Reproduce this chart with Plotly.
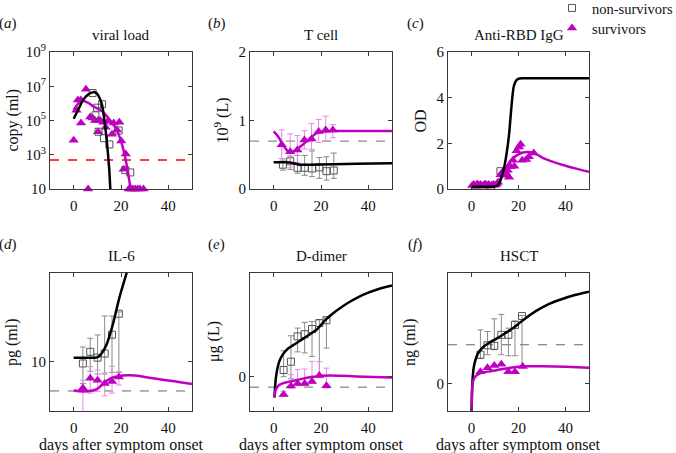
import plotly.graph_objects as go

W, H = 676, 453
FONT = "Liberation Serif, Times New Roman, serif"
MAG = "#c000c0"
MAG_ERR = "#e68ae6"
GRAY = "#555555"
GRAY_ERR = "#8a8a8a"

# ---------------- (a) viral load ----------------
a_surv_x = [0, 1.2, 1.8, 3.0, 3.1, 5.2, 6.1, 7.0, 8.0, 9.0, 10.3, 11.2, 10.3, 12.5, 13.5, 14.5,
            16.2, 16.9, 18.3, 19.3, 20.1, 22.0, 21.1, 23.3, 24.2, 25.0, 26.0, 27.0, 28.0, 29.5]
a_surv_y = [7.1e3, 4.0e5, 1.6e6, 1.6e6, 7.1e4, 6.6e6, 10, 1.6e5, 1.4e5, 1.0e5, 1.0e5, 1.0e5, 2.2e4, 7.9e4, 4.0e4, 8.9e4,
            1.6e4, 7.1e4, 2.8e4, 7.9e4, 6.3e3, 1.1e3, 140, 10, 10, 10, 10, 10, 10, 10]
a_non_x = [8.0, 9.9, 12.0, 9.2, 10.5, 12.8, 15.1, 19.0, 21.8, 23.9]
a_non_y = [4.0e6, 5.6e5, 8.9e5, 2.0e5, 2.2e4, 9.3e3, 4.0e3, 2.6e4, 126, 93]
a_fit_non_x = [0, 2, 4, 6, 8, 9, 10, 11, 12, 13, 14, 15, 15.5, 15.8]
a_fit_non_y = [1.26e5, 4.5e5, 1.6e6, 3.2e6, 4.4e6, 4.5e6, 3.5e6, 2.0e6, 7.9e5, 1.0e5, 6.3e3, 160, 10, 3]
a_fit_surv_x = [0, 2, 4, 6, 8, 10, 12, 14, 16, 18, 20, 22, 23.5, 24.2]
a_fit_surv_y = [4.0e5, 1.0e6, 1.4e6, 1.1e6, 7.1e5, 5.0e5, 3.5e5, 1.8e5, 7.9e4, 3.2e4, 6.3e3, 500, 32, 8]
a_limit = 500

# ---------------- (b) T cell ----------------
b_surv_x = [3.4, 7.0, 10.0, 13.0, 16.0, 19.0, 22.0, 25.0]
b_surv_y = [0.645, 0.545, 0.57, 0.715, 0.73, 0.84, 0.86, 0.86]
b_surv_hi = [0.865, 0.805, 0.78, 0.85, 0.955, 1.015, 1.065, 0.94]
b_surv_lo = [0.445, 0.31, 0.39, 0.585, 0.58, 0.68, 0.70, 0.75]
b_non_x = [3.9, 7.0, 10.1, 13.1, 16.2, 19.3, 22.3, 25.4]
b_non_y = [0.355, 0.405, 0.31, 0.31, 0.30, 0.315, 0.26, 0.27]
b_non_hi = [0.44, 0.48, 0.49, 0.49, 0.555, 0.46, 0.47, 0.525]
b_non_lo = [0.275, 0.285, 0.23, 0.20, 0.18, 0.155, 0.13, 0.155]
b_fit_non_x = [0, 5, 8, 11, 15, 25, 35, 50]
b_fit_non_y = [0.39, 0.39, 0.38, 0.355, 0.355, 0.36, 0.37, 0.375]
b_fit_surv_x = [0, 2, 4, 6, 7, 9, 12, 15, 18, 21, 24, 30, 40, 50]
b_fit_surv_y = [0.84, 0.76, 0.64, 0.55, 0.53, 0.56, 0.64, 0.73, 0.81, 0.84, 0.845, 0.845, 0.845, 0.845]
b_ref = 0.7

# ---------------- (c) Anti-RBD IgG ----------------
c_surv_x = [0.3, 1.0, 1.7, 2.4, 3.1, 3.8, 4.5, 5.2, 5.9, 6.6, 7.3, 8.0, 8.7, 9.4, 10.1, 10.8, 11.3,
            12.4, 13.2, 14.0, 14.6, 15.4, 16.0, 16.6, 17.7, 18.2, 19.2, 20.2, 20.9, 21.6, 23.3, 24.4, 26.5]
c_surv_y = [0.15, 0.2, 0.12, 0.22, 0.16, 0.2, 0.14, 0.18, 0.22, 0.15, 0.2, 0.13, 0.18, 0.2, 0.16, 0.22, 0.3,
            0.62, 0.75, 0.6, 0.72, 0.82, 0.51, 0.97, 1.26, 1.0, 1.67, 1.84, 1.96, 1.26, 1.29, 1.41, 1.58]
c_non_x = [8.3, 12.3]
c_non_y = [0.05, 0.78]
c_fit_non_x = [0, 5, 9, 11, 12, 13, 14, 15, 16, 17, 18, 19, 20, 22, 30, 40, 50]
c_fit_non_y = [0.1, 0.1, 0.1, 0.15, 0.3, 0.6, 1.0, 1.6, 2.4, 3.6, 4.5, 4.75, 4.83, 4.85, 4.85, 4.85, 4.85]
c_fit_surv_x = [0, 5, 9, 11, 12, 13, 14, 16, 18, 20, 22, 24, 26, 28, 31, 35, 40, 45, 50]
c_fit_surv_y = [0.08, 0.08, 0.1, 0.22, 0.38, 0.58, 0.8, 1.15, 1.38, 1.52, 1.6, 1.62, 1.59, 1.5, 1.33, 1.18, 1.02, 0.88, 0.75]

# ---------------- (d) IL-6 ----------------
d_non_x = [3.9, 7.0, 10.1, 13.1, 16.2, 19.1]
d_non_y = [9.6, 12.6, 11.0, 12.1, 18.8, 30.7]
d_non_hi = [14.1, 17.3, 18.7, 29.1, 29.1, 32.0]
d_non_lo = [6.0, 8.0, 7.5, 7.5, 7.8, 7.8]
d_surv_x = [3.9, 7.0, 10.1, 13.1, 16.2, 19.1]
d_surv_y = [5.4, 6.8, 6.5, 6.0, 6.3, 7.0]
d_surv_hi = [6.5, 8.9, 8.2, 7.7, 9.0, 7.9]
d_surv_lo = [2.5, 4.8, 5.0, 4.5, 4.8, 5.8]
d_fit_non_x = [0, 5, 9, 10, 11, 12, 13, 14, 15, 16, 17, 18, 19, 20, 21, 22, 22.5]
d_fit_non_y = [11.0, 11.0, 11.0, 11.1, 11.5, 12.3, 13.5, 15.1, 17.8, 21.4, 26.3, 33.1, 41.7, 51.3, 61.7, 74.1, 81.3]
d_fit_surv_x = [0, 4, 8, 10, 12, 14, 16, 18, 20, 22, 24, 27, 30, 35, 40, 45, 50]
d_fit_surv_y = [5.1, 5.0, 5.1, 5.3, 5.8, 6.4, 6.85, 7.05, 7.2, 7.3, 7.3, 7.2, 7.0, 6.7, 6.45, 6.2, 5.95]
d_ref = 5.05

# ---------------- (e) D-dimer ----------------
e_non_x = [4.2, 7.3, 10.1, 13.1, 16.2, 19.3, 22.3]
e_non_y = [0.065, 0.145, 0.389, 0.41, 0.46, 0.517, 0.545]
e_non_hi = [0.25, 0.395, 0.469, 0.524, 0.533, 0.55, 0.565]
e_non_lo = [0.0, -0.02, 0.24, 0.23, 0.196, 0.003, 0.276]
e_surv_x = [4.2, 7.3, 10.1, 13.1, 16.2, 19.3, 22.3]
e_surv_y = [-0.17, -0.09, -0.065, -0.065, -0.045, 0.012, -0.087]
e_surv_hi = [-0.14, 0.02, 0.07, 0.075, 0.148, 0.145, 0.083]
e_surv_lo = [-0.19, -0.11, -0.085, -0.085, -0.065, -0.01, -0.107]
e_fit_non_x = [0.3, 0.6, 1, 2, 3, 4, 6, 8, 10, 12, 14, 16, 18, 20, 22, 25, 28, 32, 36, 40, 45, 50]
e_fit_non_y = [-0.2, -0.1, 0.0, 0.12, 0.18, 0.22, 0.27, 0.3, 0.33, 0.36, 0.39, 0.42, 0.45, 0.5, 0.55, 0.61,
               0.66, 0.72, 0.77, 0.81, 0.85, 0.88]
e_fit_surv_x = [0.3, 0.6, 1, 2, 3, 5, 8, 11, 14, 17, 20, 24, 28, 35, 42, 50]
e_fit_surv_y = [-0.2, -0.15, -0.12, -0.085, -0.07, -0.055, -0.04, -0.025, -0.01, 0.0, 0.01, 0.013, 0.01, 0.003,
                -0.003, -0.008]
e_ref = -0.1

# ---------------- (f) HSCT ----------------
f_non_x = [3.8, 6.8, 9.7, 12.7, 15.7, 18.5, 21.5]
f_non_y = [0.52, 0.69, 0.68, 0.88, 0.88, 1.06, 1.22]
f_non_hi = [0.97, 0.94, 1.17, 1.25, 1.0, 1.13, 1.23]
f_non_lo = [0.45, 0.52, 0.61, 0.52, 0.5, 0.5, 0.3]
f_surv_x = [3.8, 6.8, 9.7, 12.7, 15.7, 18.5, 21.8]
f_surv_y = [0.21, 0.285, 0.325, 0.345, 0.21, 0.21, 0.305]
f_fit_non_x = [0, 0.2, 0.5, 1, 2, 3, 5, 8, 11, 14, 17, 20, 23, 27, 32, 38, 44, 50]
f_fit_non_y = [-0.6, -0.2, 0.1, 0.3, 0.47, 0.56, 0.66, 0.75, 0.82, 0.9, 0.98, 1.08, 1.18, 1.3, 1.42, 1.52, 1.6, 1.66]
f_fit_surv_x = [0, 0.2, 0.5, 1, 2, 3, 5, 8, 12, 16, 20, 24, 30, 40, 50]
f_fit_surv_y = [-0.6, -0.15, 0.0, 0.08, 0.14, 0.17, 0.2, 0.22, 0.25, 0.28, 0.3, 0.31, 0.31, 0.3, 0.285]
f_ref = 0.7

titles = ["viral load", "T cell", "Anti-RBD IgG", "IL-6", "D-dimer", "HSCT"]
ylabels = ["copy (ml)", "10<sup>9</sup> (L)", "OD", "pg (ml)", "μg (L)", "ng (ml)"]
letters = ["a", "b", "c", "d", "e", "f"]
xlabel = "days after symptom onset"
x_ticks = [0, 20, 40]

# ---------------- layout geometry (pixels) ----------------
frames = {
    1: (50, 192, 52, 189), 2: (250, 392, 52, 189), 3: (448, 589, 52, 189),
    4: (50, 192, 273, 411), 5: (250, 392, 273, 411), 6: (448, 589, 273, 411),
}

fig = go.Figure()


def ax(i):
    return ("x" if i == 1 else f"x{i}"), ("y" if i == 1 else f"y{i}")


def add_markers(i, x, y, kind, hi=None, lo=None, name=None, legend=None, clip=True):
    xa, ya = ax(i)
    if kind == "surv":
        marker = dict(symbol="triangle-up", size=9, color=MAG, line=dict(width=0))
        ecol = MAG_ERR
    else:
        marker = dict(symbol="square-open", size=7, color=GRAY, line=dict(width=1, color=GRAY))
        ecol = GRAY_ERR
    err = None
    if hi is not None:
        err = dict(type="data", symmetric=False,
                   array=[h - v for h, v in zip(hi, y)],
                   arrayminus=[v - l for v, l in zip(y, lo)],
                   color=ecol, thickness=1, width=3)
    if legend:
        kw = dict(showlegend=True, legend=legend)
    else:
        kw = dict(showlegend=False)
    fig.add_trace(go.Scatter(x=x, y=y, mode="markers", marker=marker, error_y=err,
                             xaxis=xa, yaxis=ya, name=name, cliponaxis=clip,
                             hoverinfo="skip", **kw))


def add_line(i, x, y, color):
    xa, ya = ax(i)
    fig.add_trace(go.Scatter(x=x, y=y, mode="lines",
                             line=dict(color=color, width=2.5, shape="spline", smoothing=0.8),
                             xaxis=xa, yaxis=ya, showlegend=False, hoverinfo="skip"))


# (a)
add_markers(1, a_surv_x, a_surv_y, "surv", clip=False)
add_markers(1, a_non_x, a_non_y, "non", clip=False)
add_line(1, a_fit_surv_x, a_fit_surv_y, MAG)
add_line(1, a_fit_non_x, a_fit_non_y, "black")
# (b)
add_markers(2, b_non_x, b_non_y, "non", b_non_hi, b_non_lo)
add_markers(2, b_surv_x, b_surv_y, "surv", b_surv_hi, b_surv_lo)
add_line(2, b_fit_non_x, b_fit_non_y, "black")
add_line(2, b_fit_surv_x, b_fit_surv_y, MAG)
# (c)
add_markers(3, c_non_x, c_non_y, "non", name="non-survivors", legend="legend")
add_markers(3, c_surv_x, c_surv_y, "surv", name="survivors", legend="legend2")
add_line(3, c_fit_surv_x, c_fit_surv_y, MAG)
add_line(3, c_fit_non_x, c_fit_non_y, "black")
# (d)
add_markers(4, d_non_x, d_non_y, "non", d_non_hi, d_non_lo)
add_markers(4, d_surv_x, d_surv_y, "surv", d_surv_hi, d_surv_lo)
add_line(4, d_fit_non_x, d_fit_non_y, "black")
add_line(4, d_fit_surv_x, d_fit_surv_y, MAG)
# (e)
add_markers(5, e_non_x, e_non_y, "non", e_non_hi, e_non_lo)
add_markers(5, e_surv_x, e_surv_y, "surv", e_surv_hi, e_surv_lo)
add_line(5, e_fit_non_x, e_fit_non_y, "black")
add_line(5, e_fit_surv_x, e_fit_surv_y, MAG)
# (f)
add_markers(6, f_non_x, f_non_y, "non", f_non_hi, f_non_lo)
add_markers(6, f_surv_x, f_surv_y, "surv")
add_line(6, f_fit_non_x, f_fit_non_y, "black")
add_line(6, f_fit_surv_x, f_fit_surv_y, MAG)

# reference lines
refs = [(1, a_limit, "#ff3b3b", 2, "dash"), (2, b_ref, "#8c8c8c", 1.2, "dash"),
        (4, d_ref, "#666666", 1, "dash"), (5, e_ref, "#666666", 1, "dash"),
        (6, f_ref, "#666666", 1, "dash")]
for i, v, col, w, d in refs:
    xa, ya = ax(i)
    fig.add_shape(type="line", xref=f"{xa} domain", x0=0, x1=1, yref=ya, y0=v, y1=v,
                  line=dict(color=col, width=w, dash=d), layer="below")

axis_common = dict(showline=True, linecolor="#3a3a3a", linewidth=1, mirror="ticks",
                   ticks="inside", ticklen=4, tickcolor="#3a3a3a", showgrid=False,
                   zeroline=False, tickfont=dict(family=FONT, size=15, color="#111"))

yspecs = {
    1: dict(type="log", range=[1, 9], tickvals=[10, 1e3, 1e5, 1e7, 1e9],
            ticktext=["10", "10<sup>3</sup>", "10<sup>5</sup>", "10<sup>7</sup>", "10<sup>9</sup>"]),
    2: dict(range=[0, 2], tickvals=[0, 1, 2]),
    3: dict(range=[0, 6], tickvals=[0, 2, 4, 6]),
    4: dict(type="log", range=[0.5, 1.9], tickvals=[10], ticktext=["10"]),
    5: dict(range=[-0.33, 1.0], tickvals=[0]),
    6: dict(range=[-0.5, 2.0], tickvals=[0]),
}

leg_common = dict(xanchor="left", yanchor="top", bgcolor="rgba(0,0,0,0)",
                  font=dict(family=FONT, size=14.5, color="#111"), itemwidth=30, borderwidth=0)

layout = dict(width=W, height=H, margin=dict(l=0, r=0, t=0, b=0, autoexpand=False),
              paper_bgcolor="white", plot_bgcolor="white",
              font=dict(family=FONT, size=15, color="#111"),
              showlegend=True,
              legend=dict(leg_common, x=552 / W, y=1 + 8 / H),
              legend2=dict(leg_common, x=552 / W, y=1 - 12 / H))

annotations = []
for i, (l, r, t, b) in frames.items():
    xa, ya = ax(i)
    xkey = "xaxis" if i == 1 else f"xaxis{i}"
    ykey = "yaxis" if i == 1 else f"yaxis{i}"
    layout[xkey] = dict(axis_common, domain=[l / W, r / W], range=[-10, 50], tickvals=x_ticks,
                        anchor=ya, ticklabelstandoff=3)
    layout[ykey] = dict(axis_common, domain=[1 - b / H, 1 - t / H], anchor=xa, **yspecs[i])
    cx = (l + r) / 2
    cy = (t + b) / 2
    # title
    annotations.append(dict(text=titles[i - 1], xref="paper", yref="paper", x=cx / W, y=1 - (t - 17) / H,
                            xanchor="center", yanchor="middle", showarrow=False,
                            font=dict(family=FONT, size=15, color="#111")))
    # panel letter
    annotations.append(dict(text=f"(<i>{letters[i - 1]}</i>)", xref="paper", yref="paper",
                            x=(l - 42 if i in (1, 4) else l - 33) / W, y=1 - (t - 29) / H,
                            xanchor="center", yanchor="middle", showarrow=False,
                            font=dict(family=FONT, size=15, color="#111")))
    # y label
    ylx = {1: 12, 2: 222, 3: 420, 4: 12, 5: 214, 6: 410}[i]
    annotations.append(dict(text=ylabels[i - 1], xref="paper", yref="paper", x=ylx / W, y=1 - cy / H,
                            xanchor="center", yanchor="middle", textangle=-90, showarrow=False,
                            font=dict(family=FONT, size=16, color="#111")))
    if i >= 4:
        annotations.append(dict(text=xlabel, xref="paper", yref="paper", x=cx / W, y=1 - 445 / H,
                                xanchor="center", yanchor="middle", showarrow=False,
                                font=dict(family=FONT, size=16, color="#111")))

layout["annotations"] = annotations
fig.update_layout(**layout)

fig.write_html("out.html", config={"displayModeBar": False, "staticPlot": True},
               post_script="document.body.style.margin='0';document.body.style.overflow='hidden';")
